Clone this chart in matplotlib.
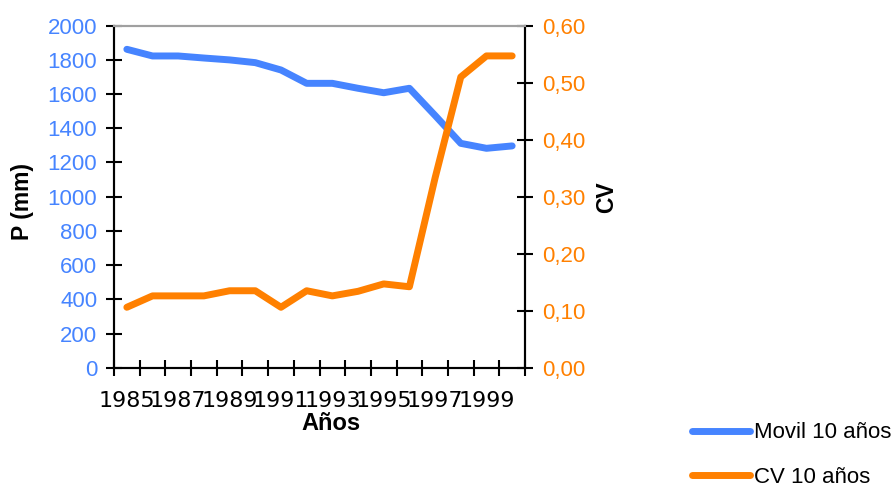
import matplotlib
matplotlib.use('Agg')
import matplotlib.pyplot as plt
import numpy as np

plt.rcParams['font.family'] = ['Liberation Sans', 'DejaVu Sans']

years = list(range(1985, 2001))
movil = [1862, 1823, 1823, 1811, 1800, 1784, 1741, 1663, 1663, 1634, 1608, 1634, 1475, 1312, 1283, 1297]
cv = [0.106, 0.126, 0.126, 0.126, 0.135, 0.135, 0.106, 0.135, 0.126, 0.134, 0.147, 0.142, 0.333, 0.51, 0.547, 0.547]
year_labels = [str(y) for y in years[::2]]
cv_ticks = [0.0, 0.1, 0.2, 0.3, 0.4, 0.5, 0.6]

blue = '#4684ff'
orange = '#ff8000'

fig = plt.figure(figsize=(8.96, 4.87), dpi=100)
ax = fig.add_axes([114/896, 1-367.7/487, (525-114)/896, (367.7-25.7)/487])
ax2 = ax.twinx()

x = np.arange(len(years))
ax.plot(x, movil, color=blue, lw=5, solid_capstyle='round', label='Movil 10 años')
ax2.plot(x, cv, color=orange, lw=5, solid_capstyle='round', label='CV 10 años')

ax.set_xlim(-0.5, len(years) - 0.5)
ax.set_ylim(0, 2000)
ax2.set_ylim(0, 0.6)

ax.set_yticks(np.arange(0, 2001, 200))
ax2.set_yticks(cv_ticks)
ax2.set_yticklabels([('%.2f' % v).replace('.', ',') for v in cv_ticks])

# category axis: tick marks between categories, labels every other year
ax.set_xticks(np.arange(-0.5, len(years), 1.0))
ax.set_xticklabels([])
ax.set_xticks(x[::2], minor=True)
ax.set_xticklabels(year_labels, minor=True, family='DejaVu Sans')
ax.tick_params(axis='x', which='major', direction='inout', length=12, width=1.5)
ax.tick_params(axis='x', which='minor', length=0, pad=17, labelsize=16)

ax.tick_params(axis='y', direction='inout', length=12, width=1.5, labelsize=16, labelcolor=blue, pad=6)
ax2.tick_params(axis='y', direction='inout', length=12, width=1.5, labelsize=16, labelcolor=orange, pad=6)

for a in (ax, ax2):
    for s in a.spines.values():
        s.set_linewidth(1.5)
    a.spines['top'].set_color('#a0a0a0')

fig.text(22/896, 1-201/487, 'P (mm)', rotation=90, ha='center', va='center', fontsize=16.5, fontweight='bold')
fig.text(607/896, 1-197/487, 'CV', rotation=90, ha='center', va='center', fontsize=16.5, fontweight='bold')
fig.text(331/896, 1-423/487, 'Años', ha='center', va='center', fontsize=17, fontweight='bold')

h1, l1 = ax.get_legend_handles_labels()
h2, l2 = ax2.get_legend_handles_labels()
fig.legend(h1 + h2, l1 + l2, loc='center left', bbox_to_anchor=(692/896, 1-455/487),
           frameon=False, fontsize=16, handlelength=2.6, handletextpad=0.2,
           labelspacing=1.05, borderpad=0, borderaxespad=0)

fig.savefig('out.png', dpi=100)
